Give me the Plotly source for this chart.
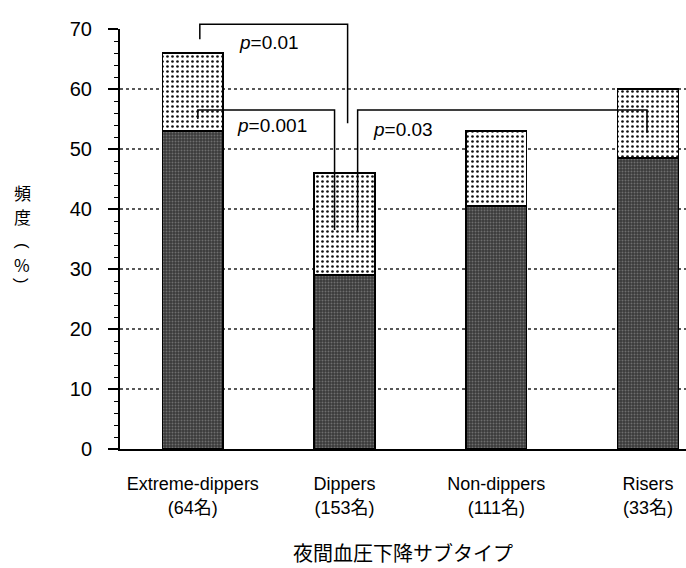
import plotly.graph_objects as go

categories = ["Extreme-dippers", "Dippers", "Non-dippers", "Risers"]
n_people = [64, 153, 111, 33]
dark_values = [53, 29, 40.5, 48.5]
total_values = [66, 46, 53, 60]
upper_values = [t - d for t, d in zip(total_values, dark_values)]
y_ticks = [0, 10, 20, 30, 40, 50, 60, 70]
grid_values = [10, 20, 30, 40, 50, 60]
YMAX = 70

# significance brackets (category from/to, level, leg bottoms, p label)
br_from = [0, 0, 1]
br_to = [1, 1, 3]
br_level = [70.8, 56.5, 56.5]
br_left_end = [68.3, 55.0, 36.2]
br_right_end = [54.3, 36.5, 52.7]
br_p = ["0.01", "0.001", "0.03"]
br_label_y = [67.8, 54.0, 53.2]

# style offsets (category units)
br_left_off = [0.046, 0.033, 0.086]
br_right_off = [0.02, -0.066, -0.007]
br_label_off = [0.29, 0.277, 0.171]

# vertical y-axis title pieces
ytitle_chars = ["頻", "度", "(", "%", ")"]
ytitle_angle = [0, 0, 90, 0, 90]
ytitle_ypx = [193, 217, 246, 264, 281]

FONT = "Liberation Sans, Arial, Noto Sans CJK JP"
CJK = "Noto Sans CJK JP, Liberation Sans"

xs = list(range(len(categories)))
ticktext = [f"{c}<br>({n}名)" for c, n in zip(categories, n_people)]

fig = go.Figure()
fig.add_trace(go.Bar(
    x=xs, y=dark_values, width=0.4,
    marker=dict(color="#3c3c3c",
                line=dict(color="black", width=1.5),
                pattern=dict(shape=".", bgcolor="#3a3a3a", fgcolor="#6e6e6e",
                             size=3, solidity=0.35, fillmode="replace")),
    showlegend=False, hoverinfo="skip"))
fig.add_trace(go.Bar(
    x=xs, y=upper_values, width=0.4,
    marker=dict(color="white",
                line=dict(color="black", width=1.5),
                pattern=dict(shape=".", bgcolor="white", fgcolor="#111111",
                             size=5, solidity=0.22, fillmode="replace")),
    showlegend=False, hoverinfo="skip"))

shapes = []
for g in grid_values:
    shapes.append(dict(type="line", xref="paper", yref="y", x0=0, x1=1, y0=g, y1=g,
                       line=dict(color="#222222", width=1.5, dash="dot"), layer="below"))

annotations = []
for i in range(len(br_p)):
    xl = br_from[i] + br_left_off[i]
    xr = br_to[i] + br_right_off[i]
    path = (f"M {xl},{br_left_end[i]/YMAX} L {xl},{br_level[i]/YMAX} "
            f"L {xr},{br_level[i]/YMAX} L {xr},{br_right_end[i]/YMAX}")
    shapes.append(dict(type="path", xref="x", yref="paper", path=path,
                       line=dict(color="black", width=1.5)))
    annotations.append(dict(x=br_from[i] + br_label_off[i], y=br_label_y[i],
                            xref="x", yref="y", xanchor="left", yanchor="middle",
                            text=f"<i>p</i>=" + br_p[i], showarrow=False,
                            font=dict(family=FONT, size=19, color="black")))

PLOT_TOP, PLOT_H = 29, 420
for ch, ang, ypx in zip(ytitle_chars, ytitle_angle, ytitle_ypx):
    annotations.append(dict(x=-0.173, y=(PLOT_TOP + PLOT_H - ypx) / PLOT_H,
                            xref="paper", yref="paper", text=ch, textangle=ang,
                            showarrow=False, xanchor="center", yanchor="middle",
                            borderpad=0,
                            font=dict(family=CJK if ang == 0 else FONT,
                                      size=17, color="black")))
annotations.append(dict(x=0.5, y=-0.2476, xref="paper", yref="paper",
                        text="夜間血圧下降サブタイプ", showarrow=False,
                        xanchor="center", yanchor="middle",
                        font=dict(family=CJK, size=20, color="black")))

fig.update_layout(
    width=686, height=568,
    margin=dict(l=120, r=0, t=29, b=119),
    barmode="stack",
    plot_bgcolor="white", paper_bgcolor="white",
    font=dict(family=FONT, size=18, color="black"),
    shapes=shapes, annotations=annotations,
    xaxis=dict(range=[-0.48, 3.25], tickmode="array", tickvals=xs, ticktext=ticktext,
               showline=True, linecolor="black", linewidth=1.5, ticks="",
               showgrid=False, zeroline=False, ticklabelstandoff=18,
               tickfont=dict(family=FONT, size=18)),
    yaxis=dict(range=[0, YMAX], tickmode="array", tickvals=y_ticks,
               showline=True, linecolor="black", linewidth=2,
               ticks="outside", ticklen=10, tickwidth=1.5, tickcolor="black",
               minor=dict(dtick=2, ticks="outside", ticklen=4, tickwidth=1.2, tickcolor="black"),
               showgrid=False, zeroline=False, ticklabelstandoff=12,
               tickfont=dict(family=FONT, size=20)),
)

fig.write_html("out.html")
